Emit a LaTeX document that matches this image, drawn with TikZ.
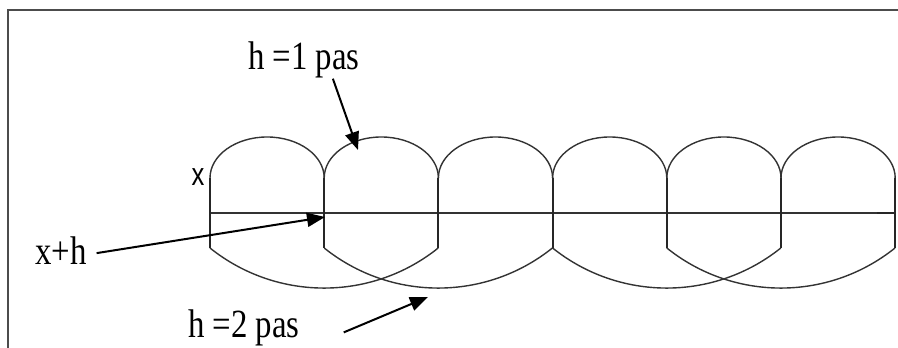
\documentclass[tikz,border=0pt]{standalone}
\usepackage{fontspec}
\setmainfont{Liberation Serif}
\setsansfont{Liberation Sans}
\usetikzlibrary{arrows.meta,calc}

\begin{document}
\begin{tikzpicture}[
  x=1pt, y=1pt,
  lbl/.style={font=\fontsize{40}{40}\selectfont, inner sep=0pt, xscale=.82, transform shape},
  arr/.style={-{Triangle[length=18pt,width=14pt]}, line width=2pt, black},
  curve/.style={line width=1.4pt, black!80},
  tickline/.style={line width=1.9pt, black!85}
]
\useasboundingbox (0,0) rectangle (898,348);
% frame
\draw[line width=2pt, black!70] (8,0) -- (8,338) -- (898,338);

% steps on the axis
\foreach \i in {0,...,6} {
  \coordinate (t\i) at (210+114.2*\i,135);
}
\draw[curve] (t0) -- (t6);
\draw[tickline] ($(t6)+(-18,0)$) -- (t6);
\foreach \i in {0,...,6} {
  \draw[tickline] ($(t\i)+(0,35)$) -- ($(t\i)+(0,-35)$);
}
% h = 1 pas
\foreach \i in {0,...,5} {
  \draw[curve] ($(t\i)+(0,35)$) arc[start angle=180, end angle=0, x radius=57.1, y radius=41];
}
% h = 2 pas
\foreach \i in {0,1,3,4} {
  \draw[curve] ($(t\i)+(0,-35)$) arc[start angle=231.3, end angle=308.7, radius=182.5];
}

\node[lbl, anchor=base west] (one) at (248,278) {h =1 pas};
\node[lbl, anchor=base west] (xh) at (35,83) {x+h};
\node[lbl, anchor=base west] (two) at (188,10) {h =2 pas};
\node[font=\sffamily\fontsize{32}{32}\selectfont, inner sep=0pt, xscale=.8, transform shape] (xl) at (198,171) {x};

\coordinate (p1) at (358,198);
\coordinate (p2) at (325,131);
\coordinate (p3) at (428,51);
\draw[arr] ([xshift=29pt]one.south) -- (p1);
\draw[arr] ([xshift=10pt,yshift=-2pt]xh.east) -- (p2);
\draw[arr] ([xshift=44pt,yshift=-4pt]two.east) -- (p3);
\end{tikzpicture}
\end{document}
